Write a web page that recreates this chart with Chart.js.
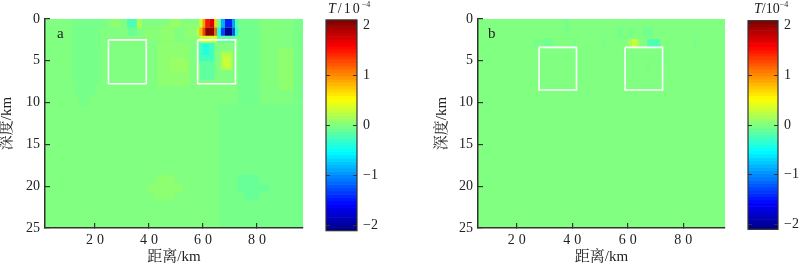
<!DOCTYPE html>
<html><head><meta charset="utf-8">
<script src="https://cdn.jsdelivr.net/npm/chart.js@4.4.1/dist/chart.umd.min.js"></script>
<style>
html,body{margin:0;padding:0;background:#fff;}
#wrap{position:relative;width:800px;height:266px;overflow:hidden;background:#fff;}
canvas{position:absolute;top:0;}
</style></head><body>
<div id="wrap">
<canvas id="ha" width="320" height="266" style="left:0;width:320px;height:266px"></canvas>
<canvas id="ca" width="80" height="266" style="left:320px;width:80px;height:266px"></canvas>
<canvas id="hb" width="340" height="266" style="left:400px;width:340px;height:266px"></canvas>
<canvas id="cb" width="60" height="266" style="left:740px;width:60px;height:266px"></canvas>
</div>
<script>
// ---------------- data ----------------
const distTicks = [20, 40, 60, 80];          // 距离/km
const depthTicks = [0, 5, 10, 15, 20, 25];   // 深度/km
const cbarTicks = [-2, -1, 0, 1, 2];         // T/10^-4
const cbarRange = [-2.1, 2.1];
const depthRange = [0, 25];
const distRangeA = [1.5, 97];
const distRangeB = [6, 95];
// rectangles (model bodies): [x0, x1, depth0, depth1]
const boxesA = [[25, 39, 2.5, 7.75], [58, 72, 2.5, 7.75]];
const boxesB = [[28, 41.5, 3.4, 8.5], [59, 72.5, 3.4, 8.5]];
// field patches: [x0, x1, depth0, depth1, T (1e-4)]
const cellsA = [
  [1.5, 97, 0, 25, 0.0],
  [11.6, 21.8, 0, 7.9, -0.04], [12.3, 20.2, 7.9, 9.1, -0.04], [14.2, 17.9, 9.1, 10.4, -0.04],
  [22, 24.5, 0, 1, -0.03], [25.8, 29.5, 0, 1, 0.05], [31.9, 35.5, 0, 1, -0.22],
  [32.5, 35.5, 1, 2, -0.1], [35.5, 37.4, 0, 1.2, 0.16], [38, 49.5, 1, 2.5, 0.04],
  [44.4, 49.4, 0.7, 2.7, 0.07], [47.9, 51.6, 0, 1, 0.1], [53, 58, 0.5, 2.5, 0.05],
  [43, 55, 2.8, 8.1, 0.06], [47.9, 54.2, 4.7, 6.3, 0.11],
  [73, 81, 0, 10.2, -0.05], [81, 88, 0, 8, 0.01], [88, 93.5, 3.5, 8.5, 0.07], [93.5, 97, 0, 10, -0.03],
  [66, 97, 10.2, 25, -0.04],
  [72.8, 80.8, 18.65, 19.85, -0.1], [72.8, 84.5, 19.85, 20.6, -0.1], [75.3, 80.8, 20.6, 21.6, -0.1],
  [42.6, 49.4, 18.65, 19.6, 0.06], [39.5, 52.4, 19.6, 20.8, 0.06], [42, 49.4, 20.8, 21.6, 0.06],
  [58.6, 64.2, 2.8, 5.1, -0.26], [59.8, 62.3, 3, 4.3, -0.39], [59, 64.2, 5.1, 7.3, -0.13],
  [66.6, 70.9, 3.9, 6.1, 0.2], [67.5, 70, 4.5, 5.8, 0.3],
  [58.6, 65.2, 2, 2.8, 0.35], [65.2, 72, 2, 2.8, -0.15],
  [57.5, 58.6, 1, 2, 0.2], [58.6, 59.8, 1, 2, 0.79], [59.8, 60.8, 1, 2, 1.31], [60.8, 64.2, 1, 2, 2.04],
  [64.2, 65.2, 1, 2, 1.15], [65.2, 66.6, 1, 2, -0.45], [66.6, 68.1, 1, 2, -1.31], [68.1, 70.9, 1, 2, -2.04],
  [70.9, 71.9, 1, 2, -1.25], [71.9, 73, 1, 2, -0.35],
  [58.6, 59.8, 0, 1, 0.35], [59.8, 60.8, 0, 1, 0.92], [60.8, 62.3, 0, 1, 1.5], [62.3, 64.2, 0, 1, 1.7],
  [64.2, 65.2, 0, 1, 0.7], [65.2, 66.6, 0, 1, -0.07], [66.6, 68.1, 0, 1, -0.85], [68.1, 70.9, 0, 1, -1.44],
  [70.9, 71.9, 0, 1, -0.9], [71.9, 73, 0, 1, -0.2]
];
const cellsB = [
  [6, 95, 0, 25, 0.0],
  [37.3, 38.6, 0, 1.7, -0.06], [25.9, 27.3, 2.4, 3.3, -0.06], [29, 33, 2.4, 3.3, -0.06],
  [40.4, 41.3, 2.4, 3.3, -0.06], [51, 52, 2.4, 3.3, -0.05], [56.4, 58.2, 1, 2.2, -0.06],
  [60, 61.5, 1, 2.2, -0.05], [65.4, 69, 1, 2.2, -0.06],
  [60, 61.4, 2.4, 3.4, 0.12], [61.4, 63.3, 2.4, 3.4, 0.3], [63.3, 64.2, 2.4, 3.4, 0.12],
  [67, 71.6, 2.4, 3.4, -0.2], [58.4, 59.8, 3.7, 4.9, -0.05], [67, 67.7, 5, 6, -0.06],
  [71.6, 73.5, 3.8, 5.5, -0.04], [83.6, 84.6, 2.4, 3.3, -0.05]
];

// ---------------- helpers ----------------
const SERIF = "'Liberation Serif', 'Times New Roman', serif";
const CJK = "'Liberation Serif', 'Noto Serif CJK SC', 'Noto Sans CJK SC', serif";
const AX = '#333';
function jetT(t) {
  t = Math.max(0, Math.min(1, t));
  const c = k => Math.round(255 * Math.max(0, Math.min(1, 1.5 - Math.abs(4 * t - k))));
  return `rgb(${c(3)},${c(2)},${c(1)})`;
}
function jet(v) { return jetT((v - cbarRange[0]) / (cbarRange[1] - cbarRange[0])); }
function boxData(b) {
  return [{x: b[0], y: b[2]}, {x: b[1], y: b[2]}, {x: b[1], y: b[3]}, {x: b[0], y: b[3]}, {x: b[0], y: b[2]}];
}
function setTicks(list) { return s => { s.ticks = list.map(v => ({value: v})); }; }

const heatPlugin = {
  id: 'heat',
  beforeDraw(chart, args, opts) {
    const {ctx, chartArea: ca, scales: {x, y}} = chart;
    ctx.save();
    ctx.beginPath(); ctx.rect(ca.left, ca.top, ca.right - ca.left, ca.bottom - ca.top); ctx.clip();
    for (const [x0, x1, d0, d1, v] of opts.cells) {
      const a = x.getPixelForValue(x0), b = x.getPixelForValue(x1);
      const c = y.getPixelForValue(d0), d = y.getPixelForValue(d1);
      ctx.fillStyle = jet(v);
      ctx.fillRect(Math.min(a, b), Math.min(c, d), Math.abs(b - a), Math.abs(d - c));
    }
    ctx.restore();
  },
  afterDraw(chart, args, opts) {
    const {ctx, chartArea: ca} = chart;
    ctx.save();
    ctx.fillStyle = '#222';
    ctx.font = '15px ' + SERIF;
    ctx.textBaseline = 'alphabetic';
    ctx.fillText(opts.label, ca.left + opts.labelDx, ca.top + 19);
    ctx.restore();
  },
  afterLayout(chart) {
    const s = chart.scales.x;
    if (!s._spaced) {
      const orig = s.drawLabels.bind(s);
      s.drawLabels = function (a) {
        const c = this.ctx; c.save(); c.letterSpacing = '4px'; c.translate(2, 0); orig(a); c.restore();
      };
      s._spaced = true;
    }
  }
};

function heatChart(id, cells, boxes, range, yWidth, yTitlePad, label, labelDx) {
  return new Chart(document.getElementById(id), {
    type: 'scatter',
    data: {
      datasets: boxes.map(b => ({
        data: boxData(b), showLine: true, borderColor: '#ffffff', borderWidth: 1.6,
        pointRadius: 0, fill: false, tension: 0
      }))
    },
    plugins: [heatPlugin],
    options: {
      responsive: false, animation: false, devicePixelRatio: 1,
      layout: {padding: {left: 0, top: 19, right: id === 'ha' ? 17 : 15, bottom: 0}},
      plugins: {legend: {display: false}, tooltip: {enabled: false}, heat: {cells, label, labelDx}},
      scales: {
        x: {
          type: 'linear', min: range[0], max: range[1],
          afterBuildTicks: setTicks(distTicks), afterFit: s => { s.height = 38; },
          grid: {drawOnChartArea: false, tickLength: -5, color: AX, lineWidth: 1.2},
          border: {color: AX, width: 1.5},
          ticks: {padding: 9, color: '#222', font: {family: SERIF, size: 14}, maxRotation: 0, autoSkip: false},
          title: {display: true, text: '距离/km', color: '#222', font: {family: CJK, size: 15, lineHeight: 1}, padding: {top: 0, bottom: 1}}
        },
        y: {
          type: 'linear', reverse: true, min: depthRange[0], max: depthRange[1],
          afterBuildTicks: setTicks(depthTicks), afterFit: s => { s.width = yWidth; },
          grid: {drawOnChartArea: false, tickLength: -5, color: AX, lineWidth: 1.2},
          border: {color: AX, width: 1.5},
          ticks: {padding: 10, color: '#222', font: {family: SERIF, size: 14}, autoSkip: false},
          title: {display: true, text: '深度/km', color: '#222', font: {family: CJK, size: 15, lineHeight: 1}, padding: {top: yTitlePad, bottom: 0}}
        }
      }
    }
  });
}

const cbarPlugin = {
  id: 'cbar',
  beforeDraw(chart) {
    const {ctx, chartArea: ca, scales: {y}} = chart;
    const top = y.getPixelForValue(cbarRange[1]), bot = y.getPixelForValue(cbarRange[0]);
    const n = 64;
    ctx.save();
    for (let i = 0; i < n; i++) {
      const y0 = bot + (top - bot) * i / n, y1 = bot + (top - bot) * (i + 1) / n;
      ctx.fillStyle = jetT((i + 0.5) / n);
      ctx.fillRect(ca.left, y1 - 0.3, ca.right - ca.left, y0 - y1 + 0.6);
    }
    ctx.restore();
  },
  afterDraw(chart, args, opts) {
    const {ctx, chartArea: ca} = chart;
    ctx.save();
    ctx.strokeStyle = AX; ctx.lineWidth = 1.2;
    ctx.strokeRect(ca.left, ca.top, ca.right - ca.left, ca.bottom - ca.top);
    ctx.fillStyle = '#222';
    ctx.textBaseline = 'alphabetic';
    ctx.letterSpacing = opts.spacing;
    let x = ca.left + opts.dx;
    ctx.font = 'italic 14px ' + SERIF;
    ctx.fillText('T', x, 13); x += ctx.measureText('T').width;
    ctx.font = '14px ' + SERIF;
    ctx.fillText('/10', x, 13); x += ctx.measureText('/10').width;
    ctx.font = '8px ' + SERIF;
    ctx.letterSpacing = '0px';
    ctx.fillText('−4', x, 7);
    ctx.restore();
  }
};

function cbarChart(id, pad, yWidth, dx, spacing) {
  const tickFmt = v => (v < 0 ? '−' + Math.abs(v) : String(v));
  return new Chart(document.getElementById(id), {
    type: 'scatter',
    data: {datasets: []},
    plugins: [cbarPlugin],
    options: {
      responsive: false, animation: false, devicePixelRatio: 1,
      layout: {padding: pad},
      plugins: {legend: {display: false}, tooltip: {enabled: false}, cbar: {dx, spacing}},
      scales: {
        x: {display: false, min: 0, max: 1},
        y: {
          type: 'linear', position: 'right', min: cbarRange[0], max: cbarRange[1],
          afterBuildTicks: setTicks(cbarTicks), afterFit: s => { s.width = yWidth; },
          grid: {drawOnChartArea: false, tickLength: -4, color: AX, lineWidth: 1},
          border: {display: false},
          ticks: {padding: 10, color: '#222', font: {family: SERIF, size: 14}, callback: tickFmt, autoSkip: false}
        },
        y2: {
          type: 'linear', position: 'left', min: cbarRange[0], max: cbarRange[1],
          afterBuildTicks: setTicks(cbarTicks), afterFit: s => { s.width = 0; },
          grid: {drawOnChartArea: false, tickLength: -4, color: AX, lineWidth: 1},
          border: {display: false},
          ticks: {display: false}
        }
      }
    }
  });
}

heatChart('ha', cellsA, boxesA, distRangeA, 45, 0, 'a', 12);
cbarChart('ca', {left: 6, top: 20, right: 0, bottom: 35.3}, 43, 2, '2px');
heatChart('hb', cellsB, boxesB, distRangeB, 78, 35, 'b', 10);
cbarChart('cb', {left: 8, top: 20.7, right: 0, bottom: 36.7}, 22, 6, '0px');
</script>
</body></html>
